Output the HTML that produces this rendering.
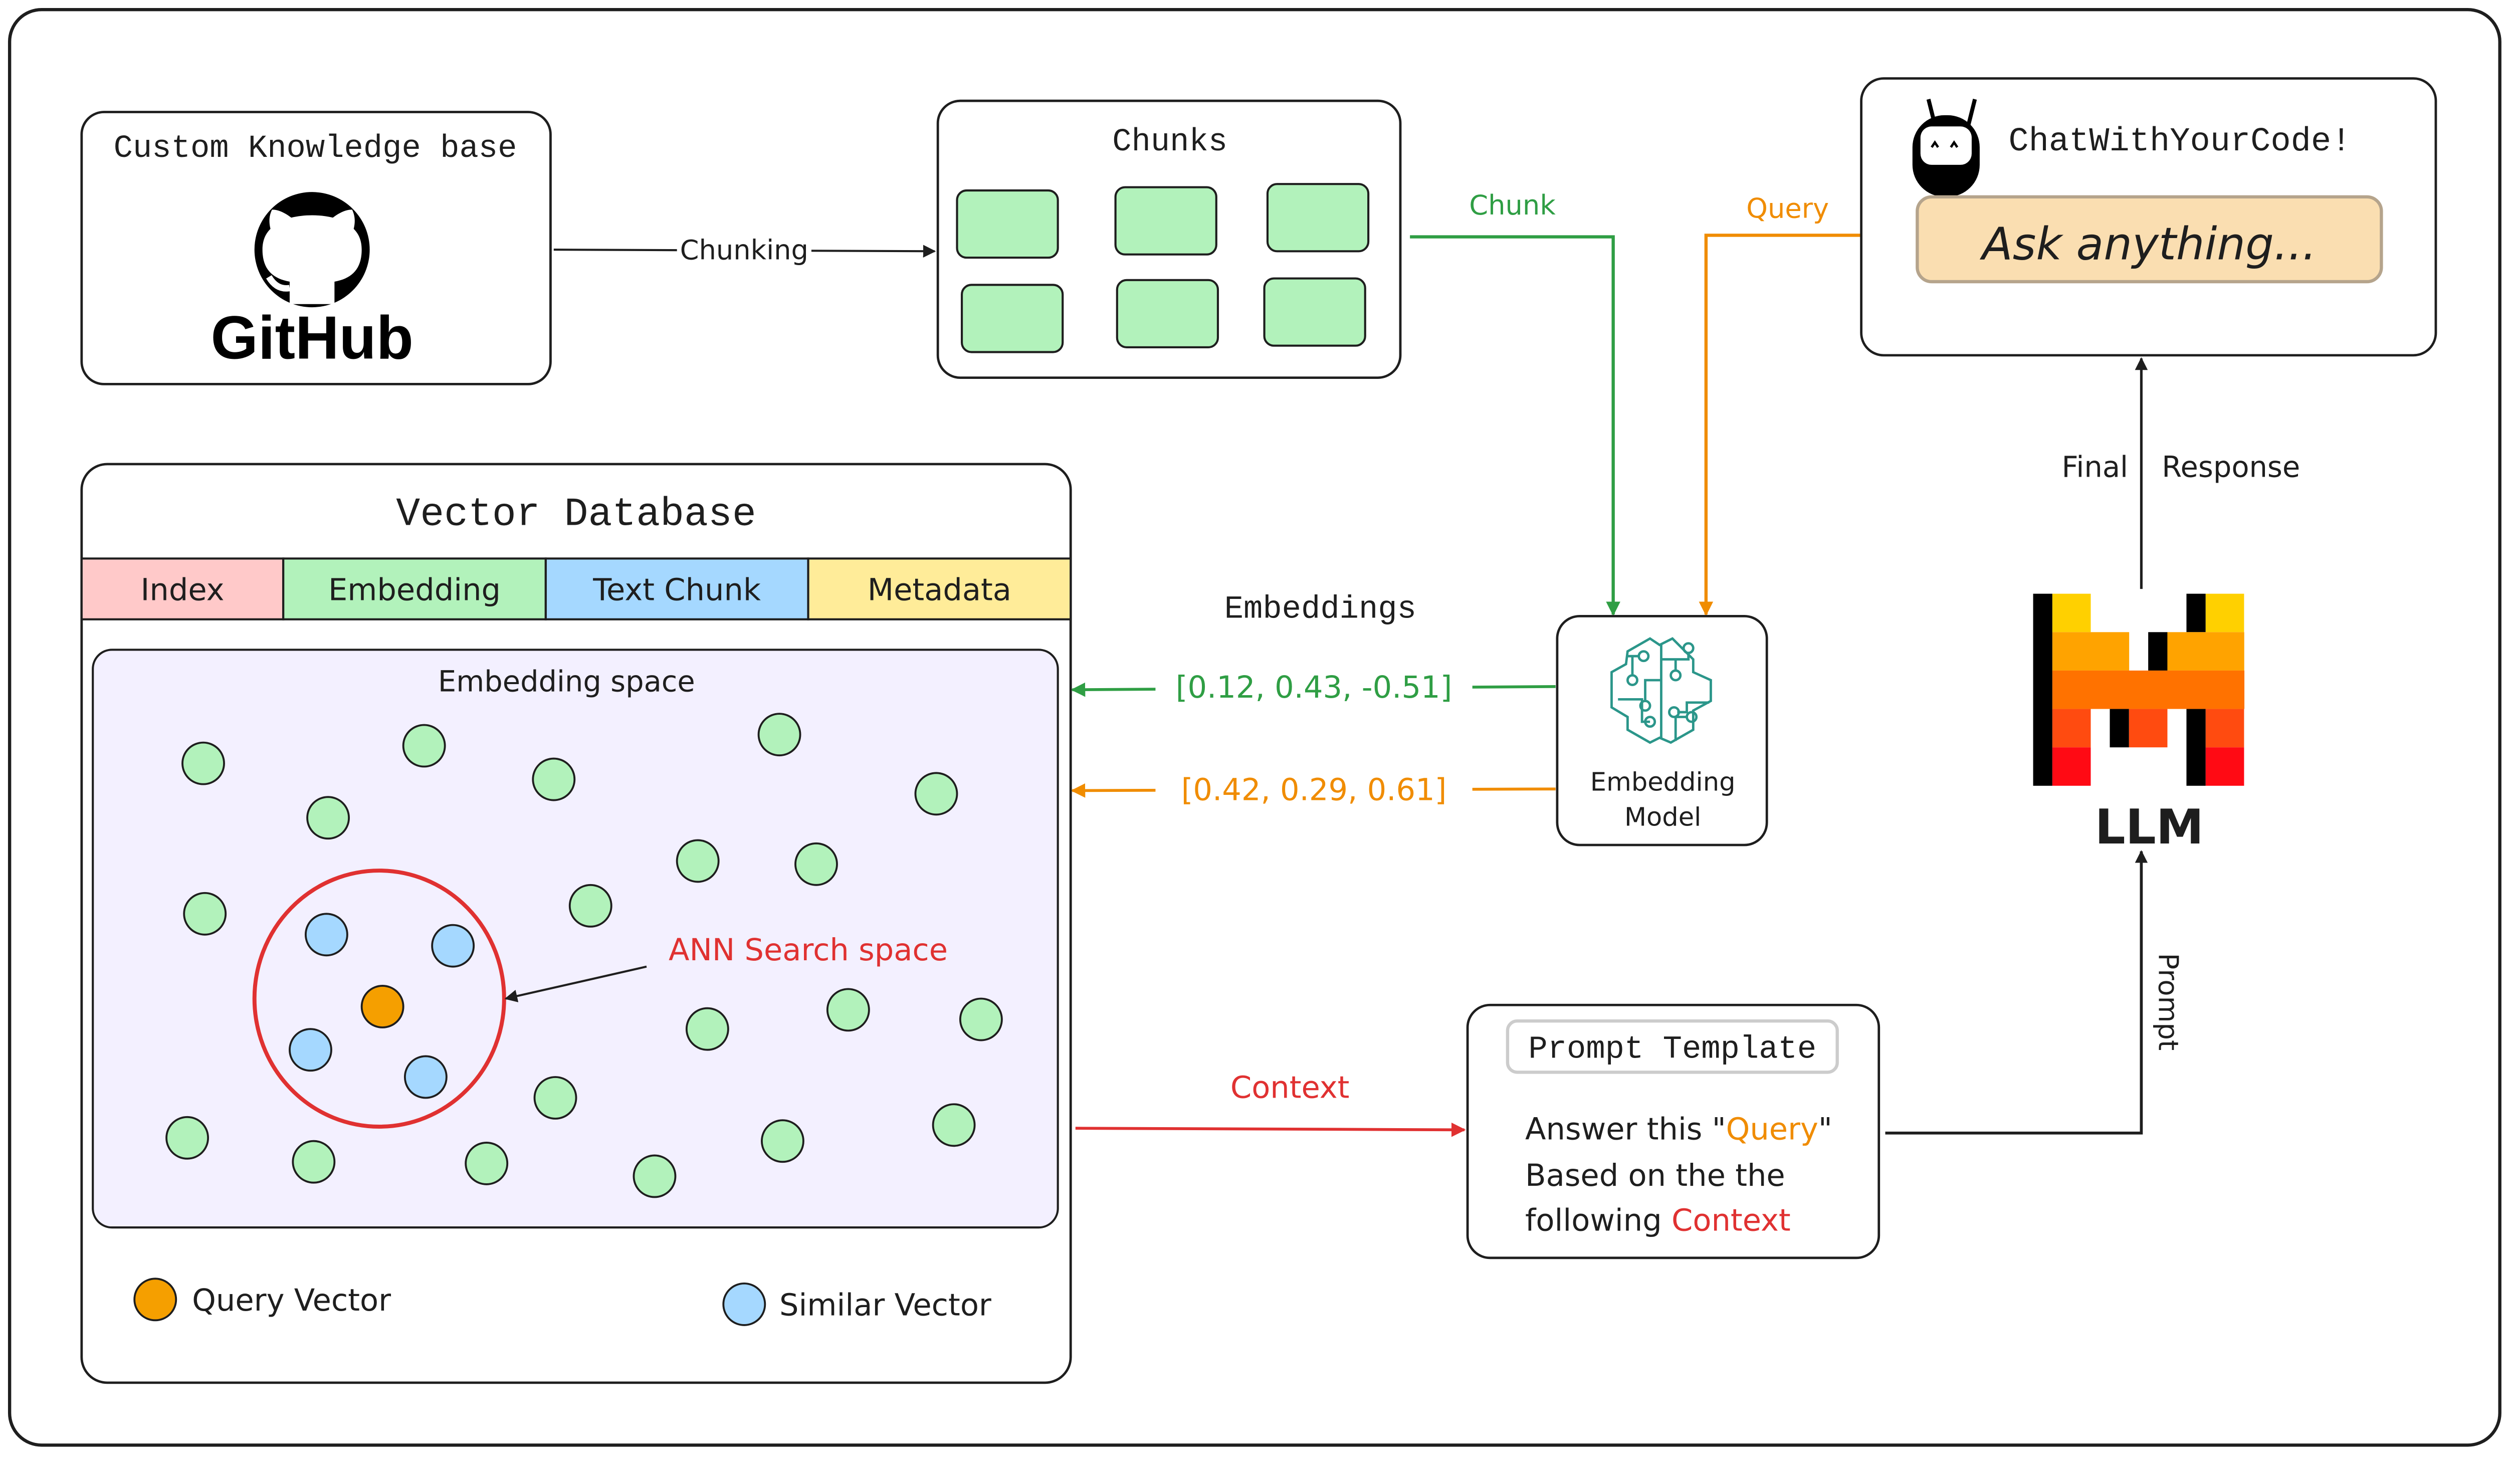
<!DOCTYPE html>
<html><head><meta charset="utf-8"><style>html,body{margin:0;padding:0;background:#fff}svg{display:block}</style></head>
<body>
<svg xmlns="http://www.w3.org/2000/svg" width="5109" height="2961" viewBox="0 0 1600 927.3">
<defs>
<marker id="ak" viewBox="0 0 10 10" refX="9" refY="5" markerWidth="8" markerHeight="8" orient="auto-start-reverse" markerUnits="userSpaceOnUse"><path d="M0,0 L10,5 L0,10 z" fill="#1e1e1e"/></marker>
<marker id="ag" viewBox="0 0 10 10" refX="9" refY="5" markerWidth="9" markerHeight="9" orient="auto" markerUnits="userSpaceOnUse"><path d="M0,0 L10,5 L0,10 z" fill="#2f9e44"/></marker>
<marker id="ao" viewBox="0 0 10 10" refX="9" refY="5" markerWidth="9" markerHeight="9" orient="auto" markerUnits="userSpaceOnUse"><path d="M0,0 L10,5 L0,10 z" fill="#f08c00"/></marker>
<marker id="ar" viewBox="0 0 10 10" refX="9" refY="5" markerWidth="9" markerHeight="9" orient="auto" markerUnits="userSpaceOnUse"><path d="M0,0 L10,5 L0,10 z" fill="#e03131"/></marker>
</defs>
<style>
.m{font-family:"Liberation Mono","DejaVu Sans Mono",monospace;fill:#1e1e1e}
.h{font-family:"DejaVu Sans","Liberation Sans",sans-serif;fill:#1e1e1e}
</style>
<rect x="6" y="6" width="1556" height="897" rx="20" fill="#fff" stroke="#1e1e1e" stroke-width="2"/>

<rect x="51" y="70" width="293" height="170" rx="14" fill="#fff" stroke="#1e1e1e" stroke-width="1.5"/>
<text x="197" y="98" class="m" font-size="20" text-anchor="middle">Custom Knowledge base</text>
<circle cx="195" cy="156" r="36" fill="#000"/>
<path d="M181,190 L181,176 C170,174 164,168 164,156 C164,150 166,146 169,143 C168,139 168,135 170,131 C174,131 178,133 182,136 C190,134 200,134 208,136 C212,133 216,131 220,131 C222,135 222,139 221,143 C224,146 226,150 226,156 C226,168 220,174 209,176 L209,190 Z" fill="#fff"/>
<path d="M181,180 C175,181 171,178 168,173" stroke="#fff" stroke-width="4" fill="none"/>
<text x="195" y="224" font-family="'Liberation Sans',sans-serif" font-weight="bold" font-size="38" text-anchor="middle" fill="#000">GitHub</text>

<line x1="346" y1="156" x2="584" y2="157" stroke="#1e1e1e" stroke-width="1.3" marker-end="url(#ak)"/>
<rect x="423" y="146" width="84" height="20" fill="#fff"/>
<text x="465" y="162" class="h" font-size="17" text-anchor="middle">Chunking</text>

<rect x="586" y="63" width="289" height="173" rx="14" fill="#fff" stroke="#1e1e1e" stroke-width="1.5"/>
<text x="731" y="94" class="m" font-size="20" text-anchor="middle">Chunks</text>
<g fill="#b2f2bb" stroke="#1e1e1e" stroke-width="1.3">
<rect x="598" y="119" width="63" height="42" rx="6"/>
<rect x="697" y="117" width="63" height="42" rx="6"/>
<rect x="792" y="115" width="63" height="42" rx="6"/>
<rect x="601" y="178" width="63" height="42" rx="6"/>
<rect x="698" y="175" width="63" height="42" rx="6"/>
<rect x="790" y="174" width="63" height="42" rx="6"/>
</g>

<polyline points="881,148 1008,148 1008,384" fill="none" stroke="#2f9e44" stroke-width="2" marker-end="url(#ag)"/>
<text x="945" y="134" class="h" font-size="17" style="fill:#2f9e44" text-anchor="middle">Chunk</text>
<polyline points="1163,147 1066,147 1066,384" fill="none" stroke="#f08c00" stroke-width="2" marker-end="url(#ao)"/>
<text x="1117" y="136" class="h" font-size="17" style="fill:#f08c00" text-anchor="middle">Query</text>

<rect x="1163" y="49" width="359" height="173" rx="14" fill="#fff" stroke="#1e1e1e" stroke-width="1.5"/>
<line x1="1205" y1="62" x2="1209" y2="78" stroke="#000" stroke-width="2.5"/>
<line x1="1234" y1="62" x2="1230" y2="78" stroke="#000" stroke-width="2.5"/>
<rect x="1195" y="72" width="42" height="51" rx="20" fill="#000"/>
<rect x="1200" y="79" width="32" height="24" rx="7" fill="#fff"/>
<path d="M1207,92 l2,-3 l2,3 M1219,92 l2,-3 l2,3" stroke="#000" stroke-width="1.5" fill="none"/>
<text x="1255" y="94" class="m" font-size="21">ChatWithYourCode!</text>
<rect x="1198" y="123" width="290" height="53" rx="9" fill="#fadeb1" stroke="#b5a48c" stroke-width="2"/>
<text x="1343" y="162" class="h" font-size="28" font-style="italic" text-anchor="middle">Ask anything...</text>

<line x1="1338" y1="368" x2="1338" y2="224" stroke="#1e1e1e" stroke-width="1.6" marker-end="url(#ak)"/>
<text x="1309" y="298" class="h" font-size="18" text-anchor="middle">Final</text>
<text x="1394" y="298" class="h" font-size="18" text-anchor="middle">Response</text>

<g>
<rect x="1270.4" y="371" width="12" height="120" fill="#000"/>
<rect x="1282.4" y="371" width="24" height="24" fill="#ffd000"/>
<rect x="1366.2" y="371" width="12" height="24" fill="#000"/>
<rect x="1378.2" y="371" width="24" height="24" fill="#ffd000"/>
<rect x="1282.4" y="395" width="48" height="24" fill="#ffa300"/>
<rect x="1342.3" y="395" width="12" height="24" fill="#000"/>
<rect x="1354.3" y="395" width="48" height="24" fill="#ffa300"/>
<rect x="1282.4" y="419" width="120" height="24" fill="#ff7200"/>
<rect x="1282.4" y="443" width="24" height="24" fill="#ff4b10"/>
<rect x="1318.3" y="443" width="12" height="24" fill="#000"/>
<rect x="1330.3" y="443" width="24" height="24" fill="#ff4b10"/>
<rect x="1366.2" y="443" width="12" height="48" fill="#000"/>
<rect x="1378.2" y="443" width="24" height="24" fill="#ff4b10"/>
<rect x="1282.4" y="467" width="24" height="24" fill="#ff0a14"/>
<rect x="1378.2" y="467" width="24" height="24" fill="#ff0a14"/>
</g>
<text x="1343" y="527" class="h" font-size="30" font-weight="bold" text-anchor="middle">LLM</text>

<polyline points="1178,708 1338,708 1338,532" fill="none" stroke="#1e1e1e" stroke-width="1.8" marker-end="url(#ak)"/>
<text x="1349" y="626" class="h" font-size="17" text-anchor="middle" transform="rotate(90 1349 626)">Prompt</text>

<rect x="917" y="628" width="257" height="158" rx="14" fill="#fff" stroke="#1e1e1e" stroke-width="1.5"/>
<rect x="942" y="638" width="206" height="32" rx="6" fill="#fff" stroke="#ccc" stroke-width="2"/>
<text x="1045" y="661" class="m" font-size="20" text-anchor="middle">Prompt Template</text>
<text x="953" y="712" class="h" font-size="19">Answer this "<tspan style="fill:#f08c00">Query</tspan>"</text>
<text x="953" y="741" class="h" font-size="19">Based on the the</text>
<text x="953" y="769" class="h" font-size="19">following <tspan style="fill:#e03131">Context</tspan></text>

<line x1="672" y1="705" x2="915" y2="706" stroke="#e03131" stroke-width="1.8" marker-end="url(#ar)"/>
<text x="806" y="686" class="h" font-size="19" style="fill:#e03131" text-anchor="middle">Context</text>

<rect x="973" y="385" width="131" height="143" rx="14" fill="#fff" stroke="#1e1e1e" stroke-width="1.5"/>
<g fill="none" stroke="#2b968a" stroke-width="1.5">
<path d="M1037,403 L1031,399 L1017,407 L1016,415 L1007,420 L1007,442 L1017,448 L1017,456 L1031,464 L1037,461 L1044,464 L1058,456 L1058,444 L1069,438 L1069,425 L1058,420 L1058,412 L1045,399 Z"/>
<line x1="1038" y1="402" x2="1038" y2="461"/>
<path d="M1017,410 H1024 M1020,410 V422 M1038,425 H1028 V438 M1011,437 H1026 V451 H1031 M1038,412 H1055 V408 M1047,412 V419 M1068,439 H1054 V445 H1048 M1047,463 V448 H1054"/>
<circle cx="1027" cy="410" r="3"/><circle cx="1020" cy="425" r="3"/><circle cx="1028" cy="441" r="3"/><circle cx="1031" cy="451" r="3"/><circle cx="1055" cy="405" r="3"/><circle cx="1047" cy="422" r="3"/><circle cx="1046" cy="445" r="3"/><circle cx="1057" cy="448" r="3"/>
</g>
<text x="1039" y="494" class="h" font-size="16" text-anchor="middle">Embedding</text>
<text x="1039" y="516" class="h" font-size="16" text-anchor="middle">Model</text>

<text x="825" y="386" class="m" font-size="20" text-anchor="middle">Embeddings</text>
<line x1="972" y1="429" x2="670" y2="431" stroke="#2f9e44" stroke-width="1.8" marker-end="url(#ag)"/>
<rect x="722" y="418" width="198" height="22" fill="#fff"/>
<text x="821" y="436" class="h" font-size="19" style="fill:#2f9e44" text-anchor="middle">[0.12, 0.43, -0.51]</text>
<line x1="972" y1="493" x2="670" y2="494" stroke="#f08c00" stroke-width="1.8" marker-end="url(#ao)"/>
<rect x="722" y="482" width="198" height="22" fill="#fff"/>
<text x="821" y="500" class="h" font-size="19" style="fill:#f08c00" text-anchor="middle">[0.42, 0.29, 0.61]</text>

<rect x="51" y="290" width="618" height="574" rx="16" fill="#fff" stroke="#1e1e1e" stroke-width="1.5"/>
<text x="360" y="328" class="m" font-size="25" text-anchor="middle">Vector Database</text>
<g stroke="#1e1e1e" stroke-width="1.3">
<rect x="51" y="349" width="126" height="38" fill="#ffc9c9"/>
<rect x="177" y="349" width="164" height="38" fill="#b2f2bb"/>
<rect x="341" y="349" width="164" height="38" fill="#a5d8ff"/>
<rect x="505" y="349" width="164" height="38" fill="#ffec99"/>
</g>
<text x="114" y="375" class="h" font-size="19" text-anchor="middle">Index</text>
<text x="259" y="375" class="h" font-size="19" text-anchor="middle">Embedding</text>
<text x="423" y="375" class="h" font-size="19" text-anchor="middle">Text Chunk</text>
<text x="587" y="375" class="h" font-size="19" text-anchor="middle">Metadata</text>

<rect x="58" y="406" width="603" height="361" rx="12" fill="#f3f0ff" stroke="#1e1e1e" stroke-width="1.3"/>
<text x="354" y="432" class="h" font-size="18" text-anchor="middle">Embedding space</text>
<g fill="#b2f2bb" stroke="#1e1e1e" stroke-width="1.2">
<circle cx="127" cy="477" r="13"/><circle cx="265" cy="466" r="13"/><circle cx="205" cy="511" r="13"/><circle cx="346" cy="487" r="13"/><circle cx="487" cy="459" r="13"/><circle cx="585" cy="496" r="13"/><circle cx="128" cy="571" r="13"/><circle cx="436" cy="538" r="13"/><circle cx="510" cy="540" r="13"/><circle cx="369" cy="566" r="13"/><circle cx="442" cy="643" r="13"/><circle cx="530" cy="631" r="13"/><circle cx="613" cy="637" r="13"/><circle cx="347" cy="686" r="13"/><circle cx="117" cy="711" r="13"/><circle cx="196" cy="726" r="13"/><circle cx="304" cy="727" r="13"/><circle cx="409" cy="735" r="13"/><circle cx="489" cy="713" r="13"/><circle cx="596" cy="703" r="13"/>
</g>
<g fill="#a5d8ff" stroke="#1e1e1e" stroke-width="1.2">
<circle cx="204" cy="584" r="13"/><circle cx="283" cy="591" r="13"/><circle cx="194" cy="656" r="13"/><circle cx="266" cy="673" r="13"/>
</g>
<circle cx="239" cy="629" r="13" fill="#f59f00" stroke="#1e1e1e" stroke-width="1.2"/>
<ellipse cx="237" cy="624" rx="78" ry="80" fill="none" stroke="#e03131" stroke-width="2.5"/>
<line x1="404" y1="604" x2="316" y2="624" stroke="#1e1e1e" stroke-width="1.3" marker-end="url(#ak)"/>
<text x="505" y="600" class="h" font-size="19" style="fill:#e03131" text-anchor="middle">ANN Search space</text>

<circle cx="97" cy="812" r="13" fill="#f59f00" stroke="#1e1e1e" stroke-width="1.2"/>
<text x="120" y="819" class="h" font-size="19">Query Vector</text>
<circle cx="465" cy="815" r="13" fill="#a5d8ff" stroke="#1e1e1e" stroke-width="1.2"/>
<text x="487" y="822" class="h" font-size="19">Similar Vector</text>
</svg>
</body></html>
